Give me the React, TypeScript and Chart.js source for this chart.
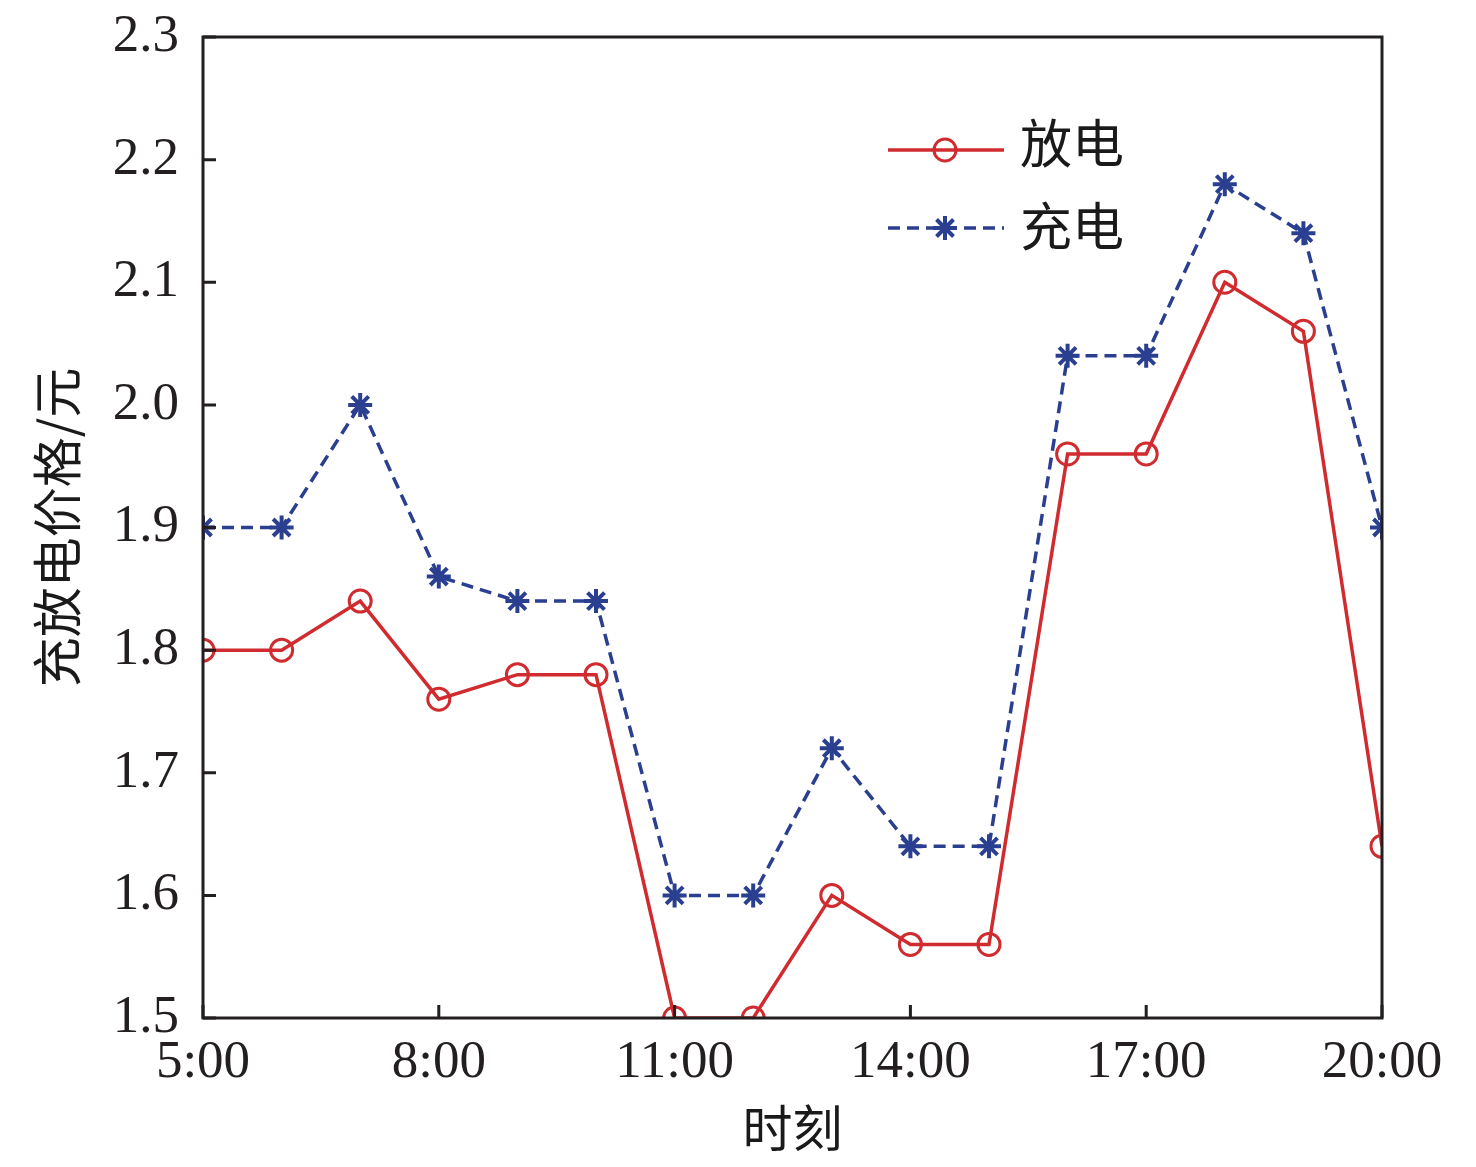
import React, { useEffect, useRef } from "react";
import { Chart, registerables } from "chart.js";

Chart.register(...registerables);

// ---- data ----
const hours = [5, 6, 7, 8, 9, 10, 11, 12, 13, 14, 15, 16, 17, 18, 19, 20];
const dischargePrice = [1.8, 1.8, 1.84, 1.76, 1.78, 1.78, 1.5, 1.5, 1.6, 1.56, 1.56, 1.96, 1.96, 2.1, 2.06, 1.64];
const chargePrice = [1.9, 1.9, 2.0, 1.86, 1.84, 1.84, 1.6, 1.6, 1.72, 1.64, 1.64, 2.04, 2.04, 2.18, 2.14, 1.9];
const xTickValues = [5, 8, 11, 14, 17, 20];
const yTickValues = [1.5, 1.6, 1.7, 1.8, 1.9, 2.0, 2.1, 2.2, 2.3];
const seriesNames = ["放电", "充电"];
const xTitle = "时刻";
const yTitle = "充放电价格/元";

const RED = "#d02b2f";
const BLUE = "#2b3f90";
const INK = "#231f20";
const SERIF = '"Liberation Serif", "Times New Roman", serif';
const CJK = '"Noto Sans CJK SC", "Noto Sans", sans-serif';

const framePlugin = {
  id: "frameAndTicks",
  afterDatasetsDraw(chart: any) {
    const { ctx, chartArea } = chart;
    const { left, right, top, bottom } = chartArea;
    const xs = chart.scales.x;
    const ys = chart.scales.y;
    ctx.save();
    ctx.strokeStyle = INK;
    ctx.lineWidth = 3;
    ctx.setLineDash([]);
    const tl = 13;
    ctx.beginPath();
    xTickValues.forEach((v) => {
      const px = xs.getPixelForValue(v);
      ctx.moveTo(px, bottom);
      ctx.lineTo(px, bottom - tl);
    });
    yTickValues.forEach((v) => {
      const py = ys.getPixelForValue(v);
      ctx.moveTo(left, py);
      ctx.lineTo(left + tl, py);
    });
    ctx.stroke();
    ctx.strokeRect(left, top, right - left, bottom - top);
    ctx.restore();
  },
};

const legendPlugin = {
  id: "lineMarkerLegend",
  afterDraw(chart: any) {
    const { ctx } = chart;
    const rows = [
      { y: 150, ty: 143, ds: 0 },
      { y: 228, ty: 226, ds: 1 },
    ];
    ctx.save();
    rows.forEach((r) => {
      const ds = chart.data.datasets[r.ds];
      ctx.strokeStyle = ds.borderColor;
      ctx.lineWidth = ds.borderWidth;
      ctx.setLineDash(ds.borderDash || []);
      ctx.beginPath();
      ctx.moveTo(888, r.y);
      ctx.lineTo(1004, r.y);
      ctx.stroke();
      ctx.setLineDash([]);
      ctx.lineWidth = ds.pointBorderWidth;
      const cx = 945;
      const rad = ds.pointRadius;
      ctx.beginPath();
      if (ds.pointStyle === "circle") {
        ctx.arc(cx, r.y, rad, 0, Math.PI * 2);
      } else {
        for (let k = 0; k < 4; k++) {
          const a = (k * Math.PI) / 4;
          ctx.moveTo(cx - Math.cos(a) * rad, r.y - Math.sin(a) * rad);
          ctx.lineTo(cx + Math.cos(a) * rad, r.y + Math.sin(a) * rad);
        }
      }
      ctx.stroke();
      ctx.fillStyle = "#1a1a1a";
      ctx.font = `52px ${CJK}`;
      ctx.textAlign = "left";
      ctx.textBaseline = "middle";
      ctx.fillText(seriesNames[r.ds], 1020, r.ty);
    });
    ctx.restore();
  },
};

export default function App() {
  const canvasRef = useRef<HTMLCanvasElement | null>(null);

  useEffect(() => {
    if (!canvasRef.current) return;
    const chart = new Chart(canvasRef.current, {
      type: "line",
      data: {
        datasets: [
          {
            label: seriesNames[0],
            data: hours.map((h, i) => ({ x: h, y: dischargePrice[i] })),
            borderColor: RED,
            borderWidth: 3.5,
            pointStyle: "circle",
            pointRadius: 11,
            pointBorderWidth: 3,
            pointBorderColor: RED,
            pointBackgroundColor: "rgba(0,0,0,0)",
            tension: 0,
            clip: 0,
          } as any,
          {
            label: seriesNames[1],
            data: hours.map((h, i) => ({ x: h, y: chargePrice[i] })),
            borderColor: BLUE,
            borderWidth: 3.5,
            borderDash: [12, 7],
            pointStyle: "star",
            pointRadius: 12,
            pointBorderWidth: 4,
            pointBorderColor: BLUE,
            pointBackgroundColor: BLUE,
            tension: 0,
            clip: 0,
          } as any,
        ],
      },
      options: {
        animation: false,
        responsive: true,
        maintainAspectRatio: false,
        layout: { padding: { top: 37, right: 94, bottom: 0, left: 0 } },
        plugins: {
          legend: { display: false },
          tooltip: { enabled: false },
        },
        scales: {
          x: {
            type: "linear",
            min: 5,
            max: 20,
            afterBuildTicks: (s: any) => {
              s.ticks = xTickValues.map((v) => ({ value: v }));
            },
            afterFit: (s: any) => {
              s.height = 149;
              s.paddingLeft = 0;
              s.paddingRight = 0;
            },
            grid: { display: false },
            border: { display: false },
            ticks: {
              autoSkip: false,
              maxRotation: 0,
              padding: 5,
              color: INK,
              font: { family: SERIF, size: 53 },
              callback: (v: any) => `${v}:00`,
            },
            title: {
              display: true,
              text: xTitle,
              color: "#1a1a1a",
              font: { family: CJK, size: 50 },
              padding: { top: 0, bottom: 9 },
            },
          },
          y: {
            type: "linear",
            min: 1.5,
            max: 2.3,
            afterBuildTicks: (s: any) => {
              s.ticks = yTickValues.map((v) => ({ value: v }));
            },
            afterFit: (s: any) => {
              s.width = 203;
              s.paddingTop = 0;
              s.paddingBottom = 0;
            },
            grid: { display: false },
            border: { display: false },
            ticks: {
              padding: 16,
              color: INK,
              font: { family: SERIF, size: 53 },
              callback: (v: any) => Number(v).toFixed(1),
            },
            title: {
              display: true,
              text: yTitle,
              color: "#1a1a1a",
              font: { family: CJK, size: 50 },
              padding: { top: 27, bottom: 0 },
            },
          },
        },
      },
      plugins: [framePlugin, legendPlugin],
    });
    return () => chart.destroy();
  }, []);

  return (
    <div style={{ position: "absolute", left: 0, top: 0, width: 1476, height: 1167, background: "#fff" }}>
      <canvas ref={canvasRef} />
    </div>
  );
}
